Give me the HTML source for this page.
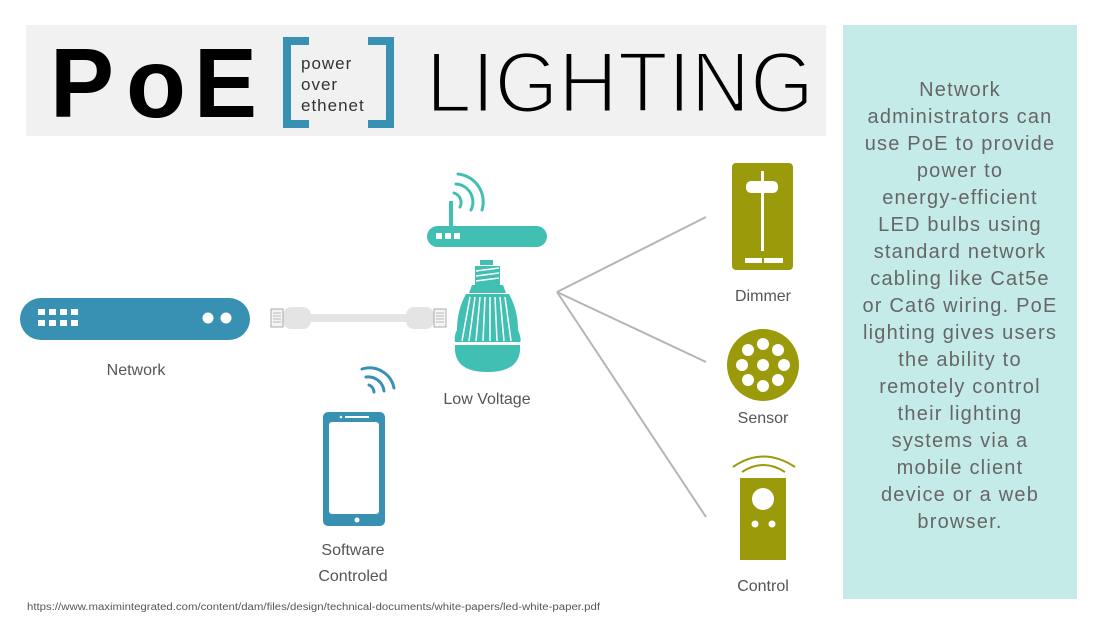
<!DOCTYPE html>
<html><head><meta charset="utf-8"><style>
html,body{margin:0;padding:0;background:#fff;}
svg{display:block;}
text{font-family:"Liberation Sans",sans-serif;}
</style></head><body>
<svg width="1100" height="625" viewBox="0 0 1100 625" xmlns="http://www.w3.org/2000/svg">
<rect x="26" y="25" width="800" height="111" fill="#f1f1f1"/>
<rect x="843" y="25" width="234" height="574" fill="#c4ebe8"/>
<!-- title -->
<g font-size="98" font-weight="bold" fill="#000">
<text x="50" y="117" textLength="64" lengthAdjust="spacingAndGlyphs">P</text>
<text x="126" y="117" textLength="60" lengthAdjust="spacingAndGlyphs">o</text>
<text x="194" y="117" textLength="63" lengthAdjust="spacingAndGlyphs">E</text>
</g>
<path d="M309,41 H287 V124 H309" fill="none" stroke="#3891b3" stroke-width="8"/>
<path d="M368,41 H390 V124 H368" fill="none" stroke="#3891b3" stroke-width="8"/>
<text x="301" y="69" font-size="17" fill="#333" letter-spacing="1">power</text>
<text x="301" y="90" font-size="17" fill="#333" letter-spacing="1">over</text>
<text x="301" y="111" font-size="17" fill="#333" letter-spacing="1">ethenet</text>
<text x="426" y="112" font-size="86" fill="#000" stroke="#f1f1f1" stroke-width="3" textLength="388" lengthAdjust="spacingAndGlyphs">LIGHTING</text>
<!-- right text -->
<g font-size="20" fill="#666" text-anchor="middle" letter-spacing="1.2">
<text x="960" y="96">Network</text>
<text x="960" y="123">administrators can</text>
<text x="960" y="150">use PoE to provide</text>
<text x="960" y="177">power to</text>
<text x="960" y="204">energy-efficient</text>
<text x="960" y="231">LED bulbs using</text>
<text x="960" y="258">standard network</text>
<text x="960" y="285">cabling like Cat5e</text>
<text x="960" y="312">or Cat6 wiring. PoE</text>
<text x="960" y="339">lighting gives users</text>
<text x="960" y="366">the ability to</text>
<text x="960" y="393">remotely control</text>
<text x="960" y="420">their lighting</text>
<text x="960" y="447">systems via a</text>
<text x="960" y="474">mobile client</text>
<text x="960" y="501">device or a web</text>
<text x="960" y="528">browser.</text>
</g>
<!-- connectors -->
<g stroke="#b5b5b5" stroke-width="2" fill="none">
<line x1="557" y1="292" x2="706" y2="217"/>
<line x1="557" y1="292" x2="706" y2="362"/>
<line x1="557" y1="292" x2="706" y2="517"/>
</g>
<!-- network -->
<rect x="20" y="298" width="230" height="42" rx="21" fill="#3891b3"/>
<g fill="#fff">
<rect x="38" y="309" width="7" height="6"/><rect x="49" y="309" width="7" height="6"/><rect x="60" y="309" width="7" height="6"/><rect x="71" y="309" width="7" height="6"/>
<rect x="38" y="320" width="7" height="6"/><rect x="49" y="320" width="7" height="6"/><rect x="60" y="320" width="7" height="6"/><rect x="71" y="320" width="7" height="6"/>
<circle cx="208" cy="318" r="5.5"/><circle cx="226" cy="318" r="5.5"/>
</g>
<text x="136" y="375" font-size="16" fill="#555" text-anchor="middle">Network</text>
<!-- cable -->
<rect x="300" y="314" width="115" height="8" fill="#e4e4e4"/>
<rect x="283" y="307" width="28" height="22" rx="8" fill="#e4e4e4"/>
<rect x="406" y="307" width="28" height="22" rx="8" fill="#e4e4e4"/>
<rect x="271" y="309" width="12" height="18" fill="#f4f4f4" stroke="#aaa" stroke-width="1"/>
<rect x="434" y="309" width="12" height="18" fill="#f4f4f4" stroke="#aaa" stroke-width="1"/>
<g stroke="#aaa" stroke-width="0.8">
<line x1="273" y1="313" x2="281" y2="313"/><line x1="273" y1="316" x2="281" y2="316"/><line x1="273" y1="319" x2="281" y2="319"/><line x1="273" y1="322" x2="281" y2="322"/>
<line x1="436" y1="313" x2="444" y2="313"/><line x1="436" y1="316" x2="444" y2="316"/><line x1="436" y1="319" x2="444" y2="319"/><line x1="436" y1="322" x2="444" y2="322"/>
</g>
<!-- router -->
<rect x="427" y="226" width="120" height="21" rx="10.5" fill="#42bfb3"/>
<rect x="449" y="201" width="4" height="26" fill="#42bfb3"/>
<g fill="#fff"><rect x="436" y="233" width="6" height="6"/><rect x="445" y="233" width="6" height="6"/><rect x="454" y="233" width="6" height="6"/></g>
<g fill="none" stroke="#42bfb3" stroke-width="3" stroke-linecap="round">
<path d="M454,193 A10,10 0 0 1 460,207"/>
<path d="M456,184 A18,18 0 0 1 471,210"/>
<path d="M458,174 A28,28 0 0 1 482,210"/>
</g>
<!-- bulb -->
<g fill="#42bfb3">
<rect x="480" y="260" width="13" height="5"/>
<path d="M475,266 H500 V285 H475 Z"/>
<path d="M472,285 H503 L506,293 H469 Z"/>
<path d="M466,294 H509 Q518,310 518,330 Q522,340 520,342 H455 Q454,335 457,330 Q457,310 466,294 Z"/>
<path d="M455,345 H520 Q522,372 487,372 Q453,372 455,345 Z"/>
</g>
<g stroke="#fff" stroke-width="1.5">
<line x1="476" y1="271" x2="499" y2="268"/><line x1="476" y1="276" x2="499" y2="273"/><line x1="476" y1="281" x2="499" y2="278"/>
<line x1="454" y1="343.5" x2="521" y2="343.5"/>
<line x1="470" y1="297" x2="462" y2="341"/><line x1="475" y1="297" x2="469" y2="341"/><line x1="480" y1="297" x2="476" y2="341"/><line x1="485" y1="297" x2="483" y2="341"/><line x1="490" y1="297" x2="490" y2="341"/><line x1="495" y1="297" x2="497" y2="341"/><line x1="500" y1="297" x2="504" y2="341"/><line x1="505" y1="297" x2="511" y2="341"/>
</g>
<text x="487" y="404" font-size="16" fill="#555" text-anchor="middle">Low Voltage</text>
<!-- phone -->
<rect x="323" y="412" width="62" height="114" rx="5" fill="#3891b3"/>
<rect x="329" y="422" width="50" height="92" rx="3" fill="#fff"/>
<rect x="345" y="416" width="24" height="2" fill="#fff"/><circle cx="341" cy="417" r="1.3" fill="#fff"/>
<circle cx="357" cy="520" r="2.5" fill="#fff"/>
<g fill="none" stroke="#3891b3" stroke-width="3" stroke-linecap="round">
<path d="M369,385 A8,8 0 0 1 374,392"/>
<path d="M366,377 A16,16 0 0 1 384,391"/>
<path d="M362,369 A25,25 0 0 1 394,388"/>
</g>
<text x="353" y="555" font-size="16" fill="#555" text-anchor="middle">Software</text>
<text x="353" y="581" font-size="16" fill="#555" text-anchor="middle">Controled</text>
<!-- dimmer -->
<rect x="732" y="163" width="61" height="107" rx="4" fill="#9a9a0a"/>
<rect x="761" y="171" width="3" height="80" fill="#fff"/>
<rect x="746" y="181" width="32" height="12" rx="5" fill="#fff"/>
<rect x="745" y="258" width="17" height="5" fill="#fff"/><rect x="764" y="258" width="19" height="5" fill="#fff"/>
<text x="763" y="301" font-size="16" fill="#555" text-anchor="middle">Dimmer</text>
<!-- sensor -->
<circle cx="763" cy="365" r="36" fill="#9a9a0a"/>
<g fill="#fff">
<circle cx="763" cy="365" r="6"/><circle cx="763" cy="344" r="6"/><circle cx="763" cy="386" r="6"/>
<circle cx="742" cy="365" r="6"/><circle cx="784" cy="365" r="6"/>
<circle cx="748" cy="350" r="6"/><circle cx="778" cy="350" r="6"/><circle cx="748" cy="380" r="6"/><circle cx="778" cy="380" r="6"/>
</g>
<text x="763" y="423" font-size="16" fill="#555" text-anchor="middle">Sensor</text>
<!-- control -->
<rect x="740" y="478" width="46" height="82" fill="#9a9a0a"/>
<circle cx="763" cy="499" r="11" fill="#fff"/>
<circle cx="755" cy="524" r="3.5" fill="#fff"/><circle cx="772" cy="524" r="3.5" fill="#fff"/>
<g fill="none" stroke="#9a9a0a" stroke-width="2">
<path d="M733,467 Q763,446 795,467"/>
<path d="M742,472 Q763,458 785,472"/>
</g>
<text x="763" y="591" font-size="16" fill="#555" text-anchor="middle">Control</text>
<text x="27" y="610" font-size="10" fill="#555" textLength="573" lengthAdjust="spacingAndGlyphs">https://www.maximintegrated.com/content/dam/files/design/technical-documents/white-papers/led-white-paper.pdf</text>
</svg>
</body></html>
